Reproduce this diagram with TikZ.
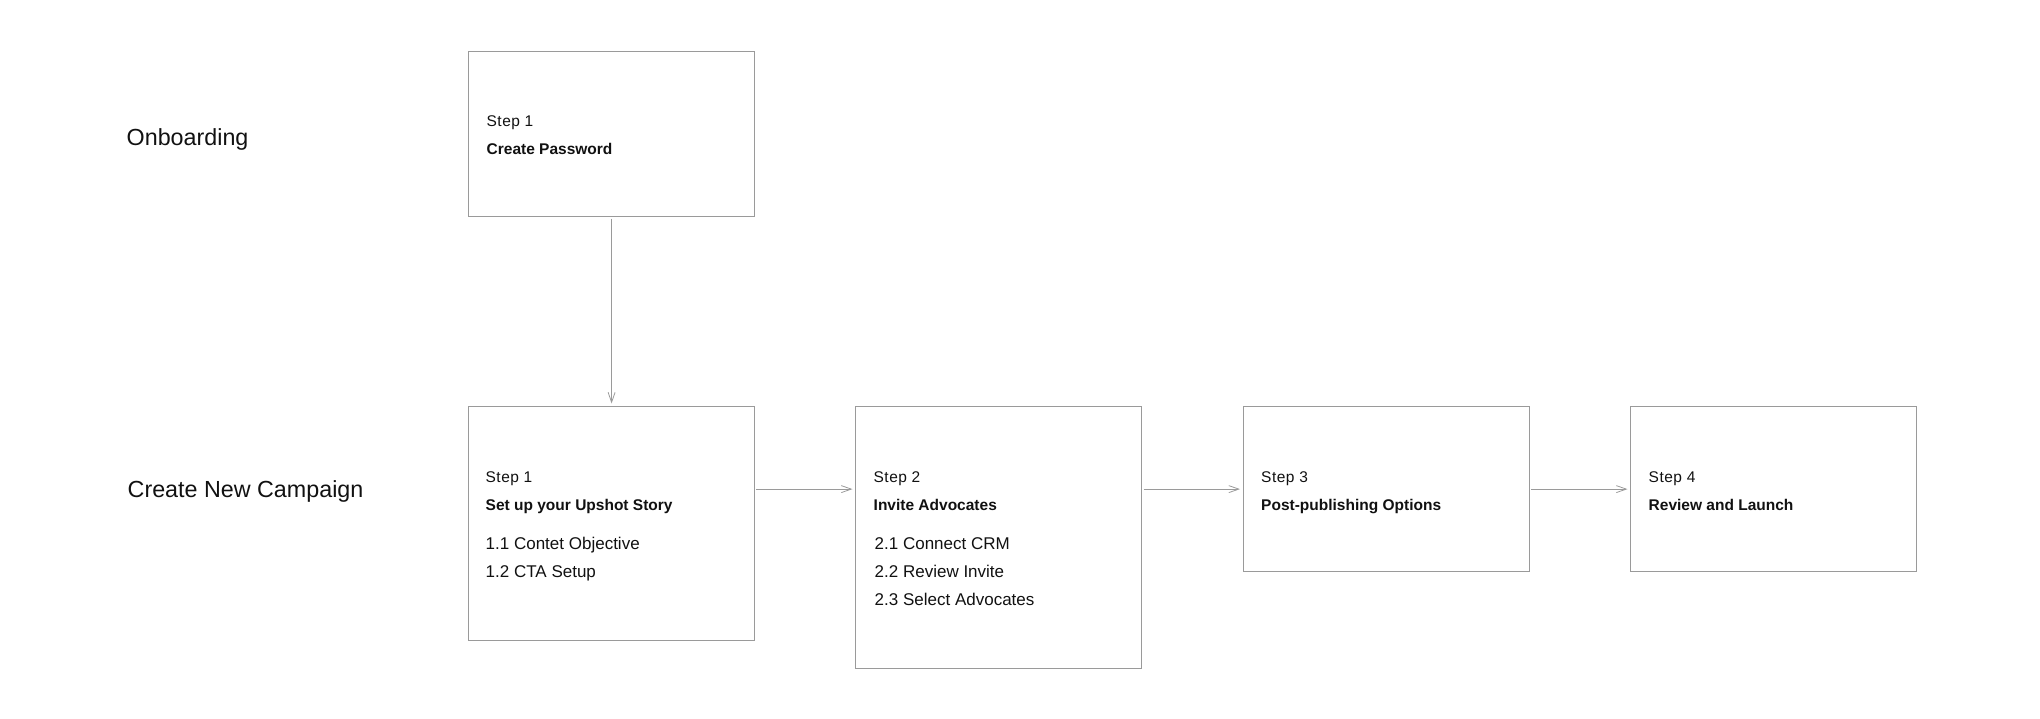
\documentclass[tikz,border=0pt]{standalone}
\usepackage{fontspec}
\setmainfont{Liberation Sans}
\usetikzlibrary{arrows.meta}
\definecolor{edge}{HTML}{9A9A9A}
\definecolor{ink}{HTML}{111111}
\begin{document}
\begin{tikzpicture}[x=1pt,y=-1pt,
  stepbox/.style={draw=edge, line width=1.2pt, minimum width=286pt, inner sep=0pt, anchor=north west},
  lbl/.style={anchor=base west, inner sep=0pt, text=ink},
  steplbl/.style={lbl, font=\fontsize{15.5}{18}\selectfont\addfontfeature{LetterSpace=3}},
  titlelbl/.style={lbl, font=\fontsize{15.5}{18}\selectfont\bfseries},
  itemlbl/.style={lbl, font=\fontsize{17}{20}\selectfont},
  rowlbl/.style={lbl, font=\fontsize{23.3}{28}\selectfont},
  flow/.style={draw=edge, line width=1pt,
    -{Straight Barb[length=10pt,width=7pt,line width=0.8pt]},
    shorten <=1.5pt, shorten >=2.5pt}]
\useasboundingbox (0,0) rectangle (2040,718);

% row titles
\node[rowlbl] (rowon) at (126.5,145.7) {Onboarding};
\node[rowlbl] (rowcamp) at (127.5,497) {Create New Campaign};

% onboarding
\node[stepbox, minimum height=165pt] (pw) at (468,51) {};
\node[steplbl] (pwstep) at (486.5,126) {Step 1};
\node[titlelbl] (pwtitle) at (486.5,154) {Create Password};

% campaign steps
\node[stepbox, minimum height=233.5pt] (cs1) at (467.5,406) {};
\node[stepbox, minimum height=261.5pt] (cs2) at (855,406) {};
\node[stepbox, minimum height=165pt] (cs3) at (1242.5,406) {};
\node[stepbox, minimum height=165pt] (cs4) at (1630,406) {};

\node[steplbl] (cs1step) at (485.5,482) {Step 1};
\node[titlelbl] (cs1title) at (485.5,510.5) {Set up your Upshot Story};
\node[itemlbl] (cs1a) at (485.5,549.5) {1.1 Contet Objective};
\node[itemlbl] (cs1b) at (485.5,577.5) {1.2 CTA Setup};

\node[steplbl] (cs2step) at (873.5,482) {Step 2};
\node[titlelbl] (cs2title) at (873.5,510.5) {Invite Advocates};
\node[itemlbl] (cs2a) at (874.5,549.5) {2.1 Connect CRM};
\node[itemlbl] (cs2b) at (874.5,577.5) {2.2 Review Invite};
\node[itemlbl] (cs2c) at (874.5,605.5) {2.3 Select Advocates};

\node[steplbl] (cs3step) at (1261,482) {Step 3};
\node[titlelbl] (cs3title) at (1261,510.5) {Post-publishing Options};

\node[steplbl] (cs4step) at (1648.5,482) {Step 4};
\node[titlelbl] (cs4title) at (1648.5,510.5) {Review and Launch};

% connectors
\draw[flow] (pw.south) -- (pw.south |- cs1.north);
\draw[flow] (cs1.east |- cs3.center) -- (cs2.west |- cs3.center);
\draw[flow] (cs2.east |- cs3.center) -- (cs3.west);
\draw[flow] (cs3.east) -- (cs4.west);
\end{tikzpicture}
\end{document}
